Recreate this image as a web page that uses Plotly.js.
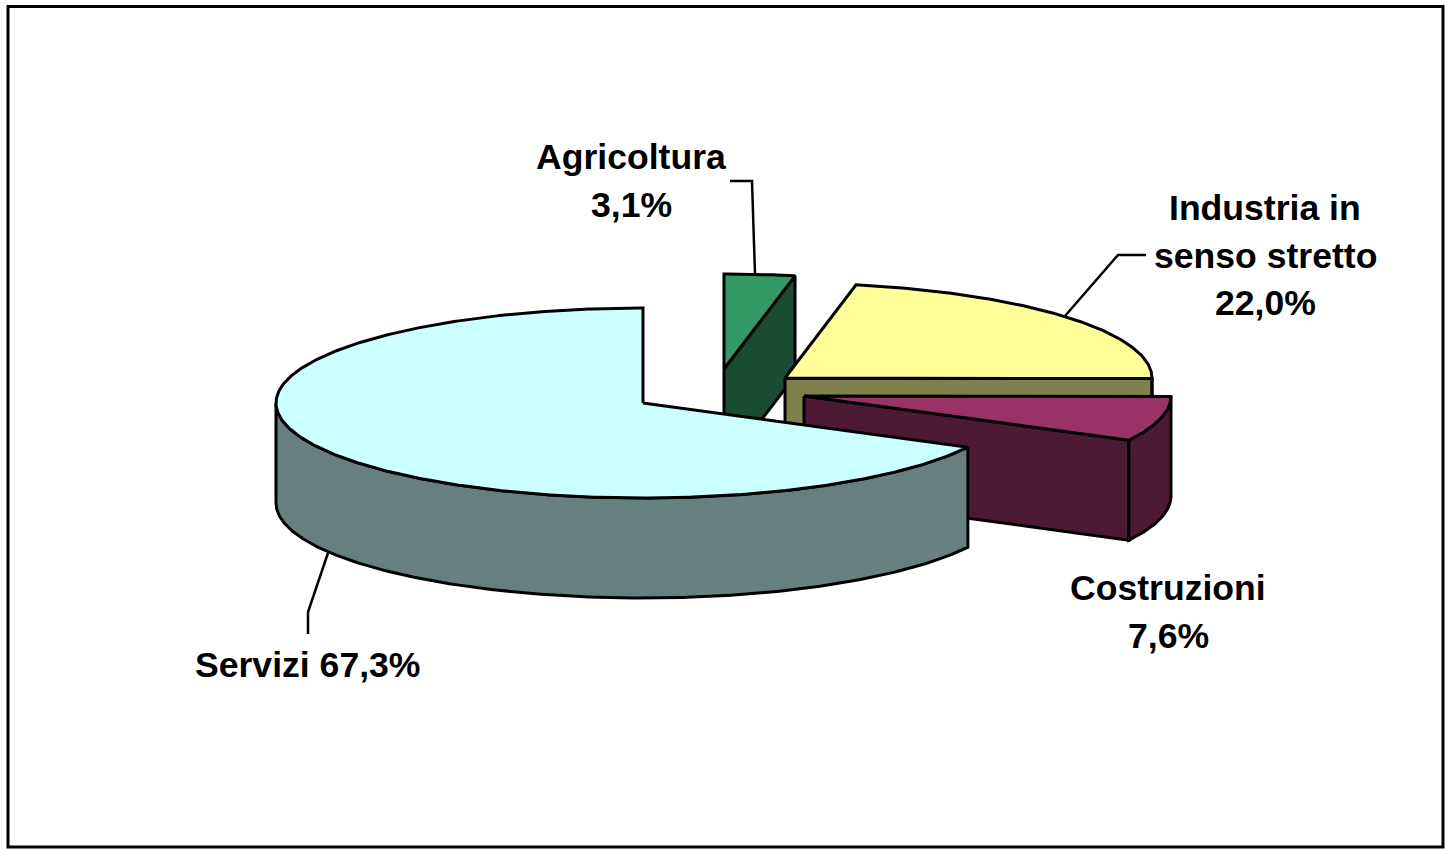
<!DOCTYPE html>
<html>
<head>
<meta charset="utf-8">
<script src="https://cdn.plot.ly/plotly-3.0.1.min.js"></script>
<style>html,body{margin:0;padding:0;background:#fff;overflow:hidden}#chart{width:1445px;height:849px}</style>
</head>
<body>
<div id="chart"></div>
<script>
// Data
const categories = ["Agricoltura", "Industria in senso stretto", "Costruzioni", "Servizi"];
const values = [3.1, 22.0, 7.6, 67.3];
const topColors = ["#339966", "#FFFF99", "#993366", "#CCFFFF"];
const sideColors = ["#1A4C33", "#80804C", "#4C1A33", "#668080"];

// Drawing geometry: where each exploded slice's apex sits on the page
const apexX = [724, 785, 804, 643];
const apexY = [369, 378, 396, 403];
const radiusX = 367, radiusY = 95, depth = 100, edge = 3;

// Label layout
const labelLines = [
  ["Agricoltura", "3,1%"],
  ["Industria in", "senso stretto", "22,0%"],
  ["Costruzioni", "7,6%"],
  ["Servizi 67,3%"]
];
const labelCx = [631, 1265, 1168, 307];
const labelTopY = [157, 208, 588, 665];
const lineStep = 47.5;
const labelSize = 35.6;

// Leader lines
const leaderX = [[730, 752, 755], [1146, 1118, 1065], [328, 308, 308]];
const leaderY = [[181, 181, 274], [255, 255, 316], [553, 612, 634]];

const total = values.reduce((a, b) => a + b, 0);
const rad = d => d * Math.PI / 180;
function pt(i, deg, drop) {
  return [apexX[i] + radiusX * Math.sin(rad(deg)), apexY[i] - radiusY * Math.cos(rad(deg)) + (drop || 0)];
}
function arc(a, b, drop, i) {
  const n = Math.max(2, Math.ceil(Math.abs(b - a) / 0.5));
  const out = [];
  for (let k = 0; k <= n; k++) out.push(pt(i, a + (b - a) * k / n, drop));
  return out;
}
function poly(points, fill) {
  const p = points.concat([points[0]]);
  return {
    type: "scatter", mode: "lines", x: p.map(q => q[0]), y: p.map(q => q[1]),
    fill: "toself", fillcolor: fill, line: {color: "#000", width: edge, shape: "linear"},
    hoverinfo: "skip", showlegend: false
  };
}

const traces = [];
let cum = 0;
values.forEach((v, i) => {
  const a0 = cum / total * 360;
  const a1 = (cum + v) / total * 360;
  cum += v;
  const apex = [apexX[i], apexY[i]];
  const apexLow = [apexX[i], apexY[i] + depth];
  // start cut face is seen only when it lies in the back half turned to the viewer
  if (a0 > 180 && a0 < 360) {
    const e = pt(i, a0), f = pt(i, a0, depth);
    traces.push(poly([apex, e, f, apexLow], sideColors[i]));
  }
  // end cut face
  if (a1 > 0 && a1 < 180) {
    const e = pt(i, a1), f = pt(i, a1, depth);
    traces.push(poly([apex, e, f, apexLow], sideColors[i]));
  }
  // outer wall: front half of the rim only
  const w0 = Math.max(a0, 90), w1 = Math.min(a1, 270);
  if (w1 > w0) {
    traces.push(poly(arc(w0, w1, 0, i).concat(arc(w1, w0, depth, i)), sideColors[i]));
  }
  // top face
  traces.push(poly([apex].concat(arc(a0, a1, 0, i)), topColors[i]));
});

leaderX.forEach((lx, i) => traces.push({
  type: "scatter", mode: "lines", x: lx, y: leaderY[i],
  line: {color: "#000", width: 2.5}, hoverinfo: "skip", showlegend: false
}));

const annotations = [];
labelLines.forEach((lines, i) => lines.forEach((t, j) => annotations.push({
  x: labelCx[i], y: labelTopY[i] + j * lineStep, xref: "x", yref: "y",
  text: "<b>" + t + "</b>", showarrow: false, xanchor: "center", yanchor: "middle",
  font: {family: "Liberation Sans, Arial, sans-serif", size: labelSize, color: "#000"}
})));

const layout = {
  width: 1445, height: 849,
  margin: {l: 0, r: 0, t: 0, b: 0},
  paper_bgcolor: "#fff", plot_bgcolor: "#fff",
  xaxis: {range: [0, 1445], visible: false, fixedrange: true},
  yaxis: {range: [849, 0], visible: false, fixedrange: true},
  showlegend: false,
  annotations: annotations,
  shapes: [{type: "rect", xref: "x", yref: "y", x0: 8, y0: 6.5, x1: 1443, y1: 847,
            line: {color: "#000", width: 3}, fillcolor: "rgba(0,0,0,0)"}]
};
Plotly.newPlot("chart", traces, layout, {displayModeBar: false, staticPlot: true});
</script>
</body>
</html>
